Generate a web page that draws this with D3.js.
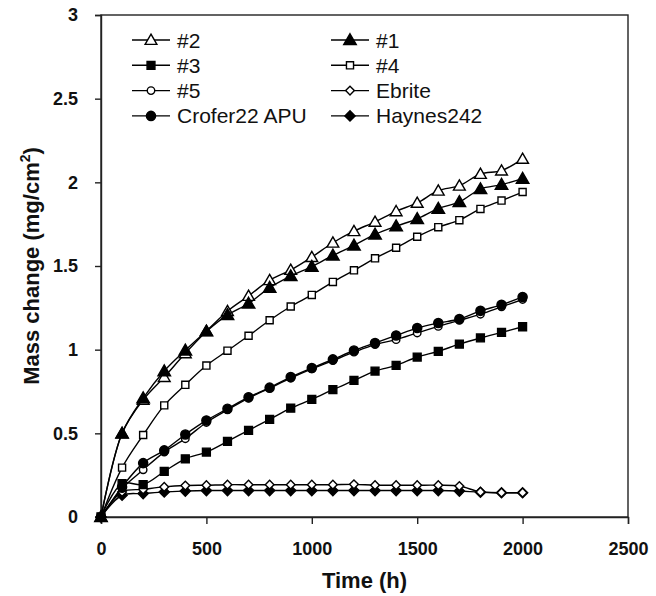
<!DOCTYPE html>
<html>
<head>
<meta charset="utf-8">
<script src="https://cdn.jsdelivr.net/npm/d3@7"></script>
<style>
  body { margin: 0; background: #fff; }
  svg { display: block; font-family: "Liberation Sans", Arial, Helvetica, sans-serif; }
  .tick text { font-size: 18px; font-weight: bold; fill: #111; }
</style>
</head>
<body>
<svg id="chart" width="656" height="596"></svg>
<script>
// hours of exposure
const hours = [0, 100, 200, 300, 400, 500, 600, 700, 800, 900, 1000, 1100, 1200, 1300, 1400, 1500, 1600, 1700, 1800, 1900, 2000];

// mass change, mg/cm2
const alloy2 = [0, 0.50, 0.70, 0.836, 0.978, 1.11, 1.23, 1.321, 1.415, 1.476, 1.553, 1.639, 1.708, 1.764, 1.827, 1.877, 1.95, 1.98, 2.05, 2.07, 2.14];
const alloy1 = [0, 0.50, 0.71, 0.872, 0.996, 1.11, 1.208, 1.276, 1.371, 1.44, 1.496, 1.563, 1.623, 1.689, 1.738, 1.782, 1.843, 1.883, 1.96, 1.986, 2.022];
const alloy3 = [0, 0.20, 0.194, 0.272, 0.348, 0.388, 0.452, 0.518, 0.583, 0.65, 0.703, 0.761, 0.816, 0.872, 0.906, 0.956, 0.99, 1.033, 1.07, 1.103, 1.137];
const alloy4 = [0, 0.295, 0.49, 0.667, 0.79, 0.905, 0.994, 1.083, 1.176, 1.258, 1.327, 1.405, 1.474, 1.546, 1.609, 1.675, 1.732, 1.774, 1.841, 1.891, 1.942];
const alloy5 = [0, 0.17, 0.282, 0.388, 0.468, 0.565, 0.64, 0.71, 0.77, 0.83, 0.885, 0.935, 0.985, 1.03, 1.06, 1.10, 1.139, 1.175, 1.212, 1.256, 1.30];
const ebrite = [0, 0.15, 0.165, 0.18, 0.188, 0.19, 0.193, 0.193, 0.193, 0.193, 0.193, 0.193, 0.195, 0.19, 0.19, 0.19, 0.19, 0.185, 0.15, 0.145, 0.145];
const crofer = [0, 0.18, 0.322, 0.398, 0.493, 0.577, 0.647, 0.716, 0.773, 0.836, 0.89, 0.942, 0.995, 1.04, 1.085, 1.129, 1.159, 1.183, 1.232, 1.268, 1.315];
const haynes = [0, 0.13, 0.14, 0.15, 0.155, 0.158, 0.158, 0.158, 0.158, 0.158, 0.158, 0.158, 0.158, 0.158, 0.158, 0.158, 0.158, 0.155, 0.148, 0.145, 0.145];

const xTicks = [0, 500, 1000, 1500, 2000, 2500];
const yTicks = [0, 0.5, 1, 1.5, 2, 2.5, 3];

// legend order (two columns, read row by row)
const series = [
  { name: '#2', values: alloy2, shape: 'triangle', filled: false },
  { name: '#1', values: alloy1, shape: 'triangle', filled: true },
  { name: '#3', values: alloy3, shape: 'square', filled: true },
  { name: '#4', values: alloy4, shape: 'square', filled: false, small: true },
  { name: '#5', values: alloy5, shape: 'circle', filled: false, small: true },
  { name: 'Ebrite', values: ebrite, shape: 'diamond', filled: false, small: true },
  { name: 'Crofer22 APU', values: crofer, shape: 'circle', filled: true },
  { name: 'Haynes242', values: haynes, shape: 'diamond', filled: true }
];

const svg = d3.select('#chart');
const m = { left: 101, right: 28, top: 15, bottom: 79 };
const W = 656 - m.left - m.right;
const H = 596 - m.top - m.bottom;

const x = d3.scaleLinear().domain([0, 2500]).range([0, W]);
const y = d3.scaleLinear().domain([0, 3]).range([H, 0]);

const g = svg.append('g').attr('transform', `translate(${m.left},${m.top})`);

// frame
g.append('rect').attr('width', W).attr('height', H)
  .attr('fill', 'none').attr('stroke', '#222').attr('stroke-width', 1.4);

const xAxis = g.append('g').attr('transform', `translate(0,${H})`)
  .call(d3.axisBottom(x).tickValues(xTicks).tickSize(7).tickPadding(18).tickFormat(d3.format('d')));
const yAxis = g.append('g')
  .call(d3.axisLeft(y).tickValues(yTicks).tickSize(6).tickPadding(17).tickFormat(d => String(d)));
[xAxis, yAxis].forEach(a => {
  a.select('.domain').attr('stroke', '#222').attr('stroke-width', 1.4);
  a.selectAll('.tick line').attr('stroke', '#222').attr('stroke-width', 1.4);
});

// axis titles
svg.append('text').attr('x', m.left + W / 2).attr('y', 588)
  .attr('text-anchor', 'middle').attr('font-size', 22).attr('font-weight', 'bold').attr('fill', '#111')
  .text('Time (h)');

const yt = svg.append('text')
  .attr('transform', `translate(39,${m.top + H / 2}) rotate(-90)`)
  .attr('text-anchor', 'middle').attr('font-size', 22).attr('font-weight', 'bold').attr('fill', '#111');
yt.append('tspan').text('Mass change (mg/cm');
yt.append('tspan').attr('font-size', 14).attr('dy', -9).text('2');
yt.append('tspan').attr('dy', 9).text(')');

function symbolPath(s) {
  if (s.shape === 'triangle') return d3.symbol(d3.symbolTriangle, s.filled ? 68 : 60)();
  if (s.shape === 'square') return d3.symbol(d3.symbolSquare, s.small ? 50 : 62)();
  if (s.shape === 'circle') return d3.symbol(d3.symbolCircle, s.small ? 44 : 66)();
  return d3.symbol(d3.symbolSquare, s.small ? 38 : 52)();
}

function drawMarker(sel, s) {
  sel.append('path')
    .attr('d', symbolPath(s))
    .attr('transform', s.shape === 'diamond' ? 'rotate(45)' : s.shape === 'triangle' ? 'translate(0,1)' : null)
    .attr('fill', s.filled ? '#000' : '#fff')
    .attr('stroke', '#000').attr('stroke-width', 1.4);
}

const line = d3.line()
  .x((d, i) => x(hours[i]))
  .y(d => y(d))
  .curve(d3.curveCatmullRom.alpha(0.5));

// draw bottom series first; #1 ends up on top of #2 like the original
const drawOrder = [7, 5, 4, 6, 2, 3, 0, 1];
drawOrder.forEach(k => {
  const s = series[k];
  const sg = g.append('g');
  sg.append('path').datum(s.values).attr('d', line)
    .attr('fill', 'none').attr('stroke', '#000').attr('stroke-width', 1.4);
  s.values.forEach((v, i) => {
    const mk = sg.append('g').attr('transform', `translate(${x(hours[i])},${y(v)})`);
    drawMarker(mk, s);
  });
});

// legend
const lg = svg.append('g');
series.forEach((s, i) => {
  const col = i % 2, row = Math.floor(i / 2);
  const lx = col === 0 ? 132 : 331;
  const ly = 40 + row * 25.3;
  const item = lg.append('g').attr('transform', `translate(${lx},${ly})`);
  item.append('line').attr('x1', 0).attr('x2', 38).attr('stroke', '#000').attr('stroke-width', 1.4);
  const mk = item.append('g').attr('transform', 'translate(19,0)');
  drawMarker(mk, s);
  item.append('text').attr('x', 45).attr('y', 7.5)
    .attr('font-size', 21).attr('fill', '#111').text(s.name);
});
</script>
</body>
</html>
